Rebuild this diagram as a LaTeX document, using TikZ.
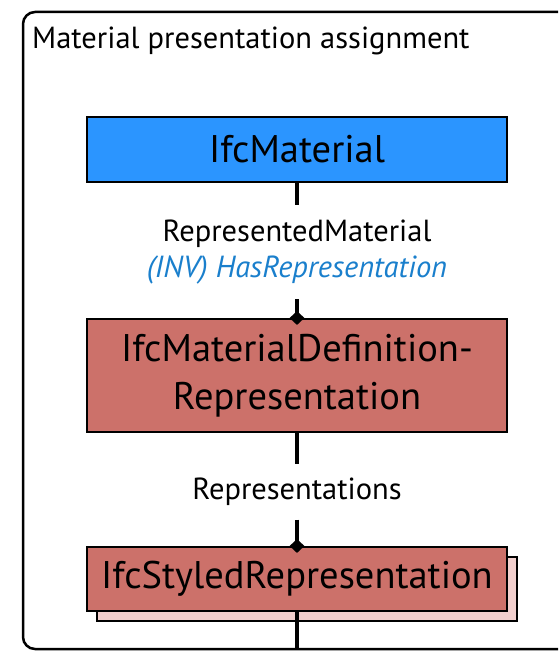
\documentclass[tikz,border=0pt]{standalone}
\usepackage{fontspec}
\setmainfont{PT Sans}
\usetikzlibrary{shapes.geometric}
\definecolor{entblue}{RGB}{43,149,255}
\definecolor{entred}{RGB}{204,113,106}
\definecolor{entshadow}{RGB}{242,207,205}
\definecolor{invblue}{RGB}{26,127,204}
\tikzset{
  entity/.style={draw=black, line width=2pt, minimum width=420pt, inner sep=0pt,
    align=center, font=\fontsize{38.5}{48}\selectfont},
  relname/.style={inner sep=0pt, align=center, font=\fontsize{30.5}{36}\selectfont},
  conn/.style={line width=4.5pt, black},
  joint/.style={diamond, fill=black, inner sep=0pt, minimum width=15pt, minimum height=14pt},
  frame/.style={line width=2.5pt, rounded corners=12pt}
}
\begin{document}
\begin{tikzpicture}[x=1pt,y=-1pt]
  \useasboundingbox (0,0) rectangle (558,652);
  \clip (0,0) rectangle (558,652);
  % outer frame, running off to the right
  \draw[frame] (23,12) rectangle (590,649);
  \node[anchor=base west, font=\fontsize{30.5}{34}\selectfont, inner sep=0pt] (title) at (32,49) {Material presentation assignment};
  \coordinate (floor) at (297,649);

  % entities
  \node[entity, fill=entblue, minimum height=65pt] (mat) at (297,149.5) {IfcMaterial};
  \node[entity, fill=entred, minimum height=113pt] (def) at (297,375.5) {IfcMaterialDefinition-\\Representation};
  \node[entity, fill=entshadow, minimum height=64pt] (shadow) at (307,589) {};
  \node[entity, fill=entred, minimum height=64pt] (sty) at (297,579) {IfcStyledRepresentation};

  % relation labels
  \node[relname, minimum height=94pt] (rel1) at (297,252) {RepresentedMaterial\\\textcolor{invblue}{\itshape (INV) HasRepresentation}};
  \node[relname, minimum height=55pt] (rel2) at (297,492) {Representations};

  % connectors
  \draw[conn] (mat.south) -- (rel1.north);
  \draw[conn] (rel1.south) -- (def.north);
  \draw[conn] (def.south) -- (rel2.north);
  \draw[conn] (rel2.south) -- (sty.north);
  \draw[conn] (sty.south) -- (floor);
  \node[joint] (j1) at (def.north) {};
  \node[joint] (j2) at (sty.north) {};
\end{tikzpicture}
\end{document}
